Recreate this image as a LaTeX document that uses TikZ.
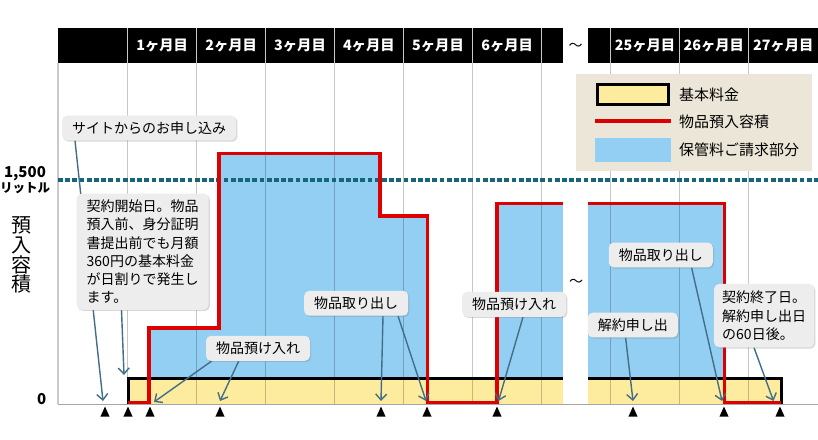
\documentclass[tikz,border=0pt]{standalone}
\usepackage{fontspec}
\setmainfont{Noto Sans CJK JP}
\usetikzlibrary{arrows.meta,shadows,calc}
\pgfdeclarelayer{back}
\pgfdeclarelayer{mid}
\pgfsetlayers{back,mid,main}
\definecolor{bandyellow}{HTML}{FDEB9E}
\definecolor{skyblue}{HTML}{93CFF2}
\definecolor{capred}{HTML}{DD0000}
\definecolor{legendbg}{HTML}{ECE6D8}
\definecolor{callbg}{HTML}{EDEDED}
\definecolor{tealdot}{HTML}{16667B}
\definecolor{arrowc}{HTML}{426E88}
\definecolor{gridc}{HTML}{C9C9C9}
\begin{document}
\begin{tikzpicture}[x=1pt,y=-1pt,
  hdr/.style={text=white,font=\fontsize{14.3}{14}\selectfont\bfseries,inner sep=0pt},
  callout/.style={fill=callbg,rounded corners=5pt,inner xsep=10pt,inner ysep=6pt,
    font=\fontsize{14}{18.3}\selectfont,align=left,
    drop shadow={shadow xshift=1.2pt,shadow yshift=-1.2pt,opacity=0.3}},
  note/.style={draw=arrowc,line width=1.4pt,-{Straight Barb[length=6pt,width=11pt]}},
  legtext/.style={anchor=west,font=\fontsize{15}{15}\selectfont,inner sep=0pt},
  redline/.style={draw=capred,line width=3.5pt,line join=miter},
]
\useasboundingbox (0,0) rectangle (818,439);

\begin{pgfonlayer}{back}
\fill[white] (0,0) rectangle (818,439);
% header bars
\fill[black] (58,28) rectangle (563.3,62.7);
\fill[black] (588.3,28) rectangle (818,62.7);
\foreach \x in {127.7,196.7,265.7,334.3,403.3,472.7,541.7,610.7,679.3,748.3}
  \draw[gridc,line width=0.8pt] (\x,28) -- (\x,62.7);
% blue fills
\fill[skyblue] (149,404) -- (149,328) -- (219,328) -- (219,153.3) -- (380,153.3)
  -- (380,216) -- (427.7,216) -- (427.7,404) -- cycle;
\fill[skyblue] (497,203.3) rectangle (563.3,404);
\fill[skyblue] (588.3,203.3) rectangle (724.3,404);
% yellow band
\fill[bandyellow] (128,378.5) rectangle (563.3,404);
\fill[bandyellow] (588.3,378.5) rectangle (781,404);
% grid lines in the chart
\foreach \x in {127.7,196.7,265.7,334.3,403.3,472.7,541.7,610.7,679.3,748.3}
  \draw[black,opacity=0.22,line width=0.9pt] (\x,62.7) -- (\x,404);
\draw[gridc,line width=1.5pt] (58,62.7) -- (58,404);
\draw[black!35,line width=1.2pt] (58,404.5) -- (818,404.5);
% band border
\draw[black,line width=3pt] (128,404) -- (128,378.5) -- (563.3,378.5);
\draw[black,line width=3pt] (588.3,378.5) -- (781,378.5) -- (781,404);
% dotted 1500 line
\draw[tealdot,line width=3.8pt,dash pattern=on 4.7pt off 2.5pt] (58,180) -- (818,180);
% red capacity line
\draw[redline] (128,402.5) -- (149,402.5) -- (149,328) -- (219,328) -- (219,153.3)
  -- (380,153.3) -- (380,216) -- (427.7,216) -- (427.7,402.5) -- (497,402.5)
  -- (497,203.3) -- (563.3,203.3);
\draw[redline] (588.3,203.3) -- (724.3,203.3) -- (724.3,402.5) -- (781,402.5);
% markers
\foreach \x in {105,128,150,220,381,427,497,633,724,780}
  \fill[black] (\x-4.6,416.7) -- (\x,406.5) -- (\x+4.6,416.7) -- cycle;
% legend
\fill[legendbg] (576,74) rectangle (812,170.7);
\draw[black,line width=3pt,fill=bandyellow] (597.5,84.8) rectangle (668.5,104.5);
\draw[capred,line width=4.5pt] (595,121) -- (670.7,121);
\fill[skyblue] (595,138.3) rectangle (671,161.7);
\end{pgfonlayer}

% header texts
\node[hdr] (h1) at (162.2,45.5) {1ヶ月目};
\node[hdr] (h2) at (231.2,45.5) {2ヶ月目};
\node[hdr] (h3) at (300,45.5) {3ヶ月目};
\node[hdr] (h4) at (368.8,45.5) {4ヶ月目};
\node[hdr] (h5) at (438,45.5) {5ヶ月目};
\node[hdr] (h6) at (507.2,45.5) {6ヶ月目};
\node[hdr] (h25) at (645,45.5) {25ヶ月目};
\node[hdr] (h26) at (713.8,45.5) {26ヶ月目};
\node[hdr] (h27) at (783.2,45.5) {27ヶ月目};
\node[font=\fontsize{14}{14}\selectfont,inner sep=0pt] (tl1) at (575.7,47) {～};
\node[font=\fontsize{14}{14}\selectfont,inner sep=0pt] (tl2) at (576,283) {～};

% legend texts
\node[legtext] (l1) at (679,95) {基本料金};
\node[legtext] (l2) at (679,121.5) {物品預入容積};
\node[legtext] (l3) at (679,149.7) {保管料ご請求部分};

% axis labels
\node[font=\fontsize{15}{15}\selectfont\bfseries,inner sep=0pt] (y1) at (25,173.5) {1,500};
\node[font=\fontsize{12.5}{12.5}\selectfont\bfseries,inner sep=0pt] (y2) at (25,188.5) {リットル};
\node[font=\fontsize{15}{15}\selectfont\bfseries,inner sep=0pt] (y0) at (41.7,399.5) {0};
\node[font=\fontsize{20}{19.8}\selectfont,align=center,inner sep=0pt] (ylab) at (22,255) {預\\入\\容\\積};

% callouts
\node[callout] (c1) at (149.2,128) {サイトからのお申し込み};
\node[callout] (c2) at (142.7,251.7) {契約開始日。物品\\預入前、身分証明\\書提出前でも月額\\360円の基本料金\\が日割りで発生し\\ます。};
\node[callout] (c3) at (258,348.3) {物品預け入れ};
\node[callout] (c4) at (356.2,303.3) {物品取り出し};
\node[callout] (c5) at (514.2,304.3) {物品預け入れ};
\node[callout] (c6) at (632.8,325) {解約申し出};
\node[callout] (c7) at (660.8,255) {物品取り出し};
\node[callout,inner xsep=8pt,inner ysep=7pt] (c8) at (764.2,315.7) {契約終了日。\\解約申し出日\\の60日後。};

% arrow targets
\coordinate (t1) at (103,401);
\coordinate (t2) at (124,375);
\coordinate (t3) at (154,402);
\coordinate (t4) at (220,401);
\coordinate (t5) at (381,401);
\coordinate (t6) at (426,401);
\coordinate (t7) at (498.5,401);
\coordinate (t8) at (633,401);
\coordinate (t9) at (722,401);
\coordinate (t10) at (773.5,401);

\begin{pgfonlayer}{mid}
\draw[note] ([xshift=13pt]c1.south west) -- (t1);
\draw[note] ([xshift=45pt]c2.south west) -- (t2);
\draw[note] ([xshift=6pt]c3.south west) -- (t3);
\draw[note] ([xshift=33pt]c3.south west) -- (t4);
\draw[note] ([xshift=79pt]c4.south west) -- (t5);
\draw[note] ([xshift=94pt]c4.south west) -- (t6);
\draw[note] ([xshift=61pt]c5.south west) -- (t7);
\draw[note] ([xshift=38pt]c6.south west) -- (t8);
\draw[note] ([xshift=83pt]c7.south west) -- (t9);
\draw[note] ([xshift=40pt]c8.south west) -- (t10);
\end{pgfonlayer}
\end{tikzpicture}
\end{document}
